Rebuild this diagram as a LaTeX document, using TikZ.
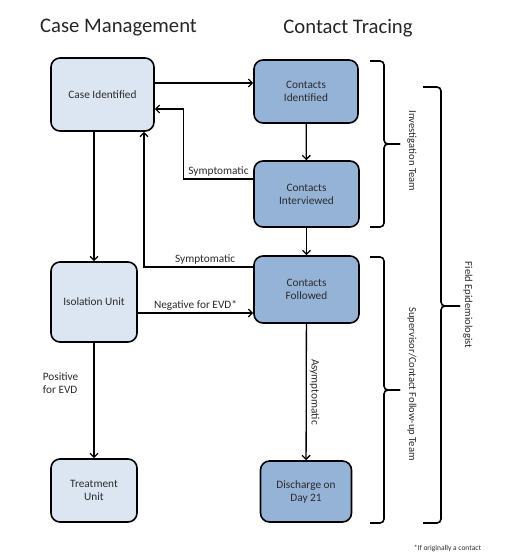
\documentclass[tikz,border=0pt]{standalone}
\usepackage{fontspec}
\setmainfont{Carlito}
\usetikzlibrary{positioning,calc,arrows.meta}
\definecolor{casefill}{HTML}{DCE6F2}
\definecolor{tracefill}{HTML}{95B3D7}
\definecolor{inktext}{HTML}{2B2B2B}
\tikzset{
  box/.style={rectangle,draw,line width=1.6pt,rounded corners=9pt,fill=casefill,align=center,
              text=inktext,font=\fontsize{11.3}{13}\selectfont,inner sep=0},
  tracebox/.style={box,fill=tracefill},
  flow/.style={-{Straight Barb[length=4pt,width=8pt]},line width=1.3pt},
  edgelab/.style={font=\fontsize{11.3}{13}\selectfont,text=inktext,inner sep=2pt},
  title/.style={font=\fontsize{20.7}{24}\selectfont,text=black!85},
  teamlab/.style={font=\fontsize{10.6}{12}\selectfont,rotate=-90,text=inktext},
  bracket/.style={line width=1.6pt,rounded corners=4pt},
}
% a right-facing brace: spine x, top, tip y, bottom, reach of the ends, reach of the tip
\newcommand{\teambrace}[6]{%
  \draw[bracket] (#1-#5,#2) -- (#1,#2) -- (#1,#3) -- (#1+#6,#3);
  \draw[bracket] (#1-#5,#4) -- (#1,#4) -- (#1,#3) -- (#1+#6,#3);
}

\begin{document}
\begin{tikzpicture}[x=1pt,y=-1pt]
  \useasboundingbox (0,0) rectangle (513,558);
  % column titles
  \node[title] (cmtitle) at (118.5,28) {Case Management};
  \node[title] (cttitle) at (348,28) {Contact Tracing};
  % case management
  \node[box,minimum width=103pt,minimum height=73pt] (case) at (102.5,94.5) {Case Identified};
  \node[box,minimum width=86pt,minimum height=80pt] (iso) at (94,302) {Isolation Unit};
  \node[box,minimum width=86pt,minimum height=63pt] (treat) at (94,490.5) {Treatment\\Unit};
  % contact tracing
  \node[tracebox,minimum width=104pt,minimum height=63pt] (cid) at (306,91.5) {Contacts\\Identified};
  \node[tracebox,minimum width=105pt,minimum height=66pt] (cint) at (306.5,194) {Contacts\\Interviewed};
  \node[tracebox,minimum width=105pt,minimum height=67pt] (cfol) at (306.5,289.5) {Contacts\\Followed};
  \node[tracebox,minimum width=91pt,minimum height=61pt] (dis) at (306,491.5) {Discharge on\\Day 21};
  % arrows
  \draw[flow] ([yshift=11.5pt]case.east) -- ([yshift=11.5pt]case.east -| cid.west);
  \draw[flow] (iso.north |- case.south) -- (iso.north);
  \draw[flow] (cid) -- (cint);
  \draw[flow] (cint) -- (cfol);
  \draw[flow] ([yshift=15pt]cint.west) -| ([xshift=29pt,yshift=-14.5pt]case.east)
    node[edgelab,pos=0.25,above] {Symptomatic} -- ([yshift=-14.5pt]case.east);
  \draw[flow] ([yshift=22.5pt]cfol.west) -| ([xshift=41.5pt]case.south)
    node[edgelab,pos=0.22,above] {Symptomatic};
  \draw[flow] ([yshift=-11pt]iso.east) -- ([yshift=-11pt]iso.east -| cfol.west)
    node[edgelab,midway,above] {Negative for EVD*};
  \draw[flow] (iso) -- (treat)
    node[edgelab,pos=0.35,left=13pt,align=left] {Positive\\for EVD};
  \draw[flow] (cfol) -- (dis)
    node[edgelab,midway,anchor=south,rotate=-90,yshift=1pt] {Asymptomatic};
  % teams
  \teambrace{384}{61}{144}{227}{14}{16}
  \teambrace{384}{257}{390}{523}{14}{16}
  \teambrace{441}{87}{306}{523}{18}{19}
  \node[teamlab] (invlab) at (412,151) {Investigation Team};
  \node[teamlab] (suplab) at (412,384) {Supervisor/Contact Follow-up Team};
  \node[teamlab] (epilab) at (468,305) {Field Epidemiologist};
  % footnote
  \node[font=\fontsize{7.5}{9}\selectfont,text=inktext] (note) at (447.5,548) {*If originally a contact};
\end{tikzpicture}
\end{document}
